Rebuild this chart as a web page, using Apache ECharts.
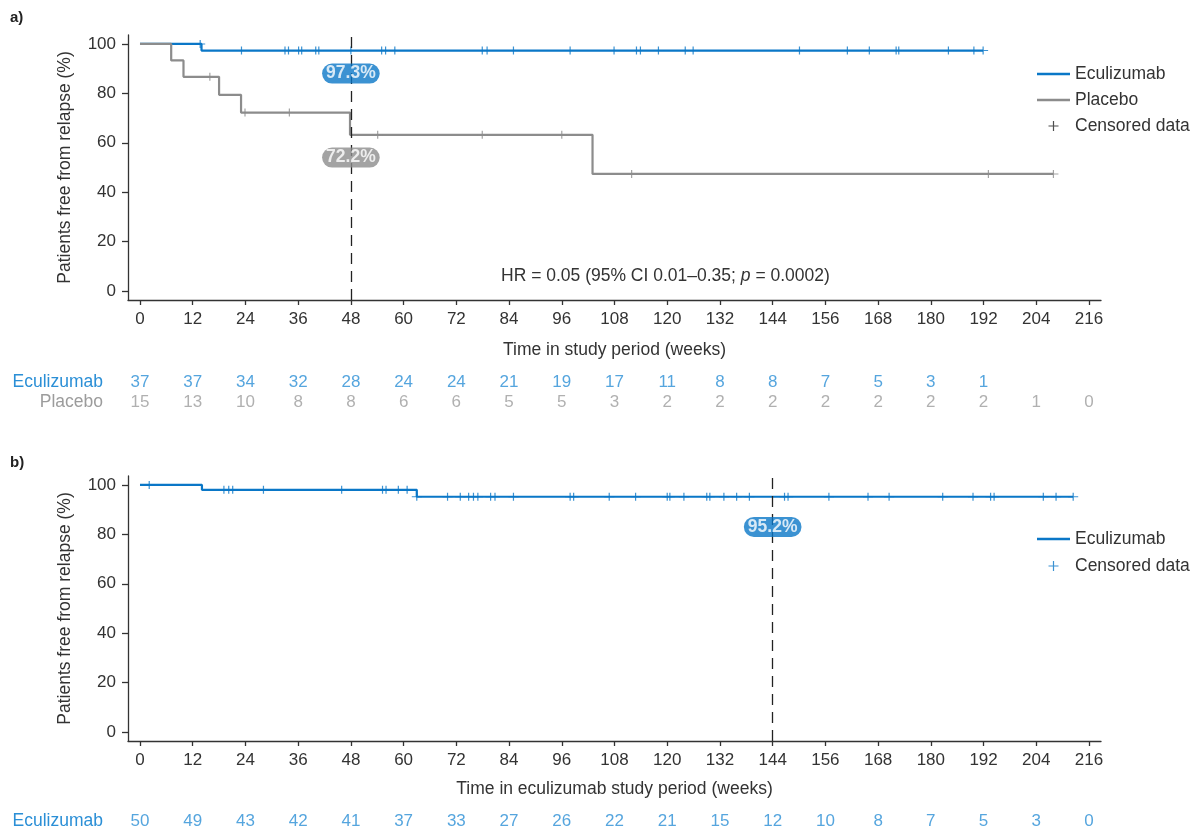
<!DOCTYPE html>
<html><head><meta charset="utf-8">
<script src="https://cdn.jsdelivr.net/npm/echarts@6/dist/echarts.min.js"></script>
<style>html,body{margin:0;padding:0;background:#fff}#c{width:1194px;height:830px}</style>
</head><body><div id="c"></div>
<script>
// ---------- DATA ----------
const xTicks = [0,12,24,36,48,60,72,84,96,108,120,132,144,156,168,180,192,204,216];
const yTicks = [0,20,40,60,80,100];

// Panel a) Kaplan-Meier steps (time in weeks, % free from relapse)
const ecuA_t = [0, 14, 191.9];
const ecuA_s = [100, 97.3, 97.3];
const plaA_t = [0, 7.1, 9.9, 18, 23, 47.8, 103, 207.9];
const plaA_s = [100, 93.3, 86.7, 79.4, 72.2, 63.2, 47.4, 47.4];
const ecuA_cens = [13.7, 23.1, 33, 33.8, 36.1, 36.8, 40, 40.7, 48, 55, 55.9, 58, 77.9, 79, 85, 97.9, 107.9, 113, 113.9, 118, 124.1, 125.9, 150.1, 161, 166, 172.1, 172.7, 184, 189.8, 191.9];
const plaA_cens = [15.9, 23.9, 34, 54.1, 77.9, 96, 111.9, 193.1, 207.9];
const riskA_ecu = [37,37,34,32,28,24,24,21,19,17,11,8,8,7,5,3,1];
const riskA_pla = [15,13,10,8,8,6,6,5,5,3,2,2,2,2,2,2,2,1,0];
const markA_week = 48;
const markA_labels = ['97.3%', '72.2%'];
const markA_labelY = [88.0, 54.0];
const hrParts = ['HR = 0.05 (95% CI 0.01\u20130.35; ', 'p', ' = 0.0002)'];

// Panel b)
const ecuB_t = [0, 14.1, 63, 212.4];
const ecuB_s = [100, 98.0, 95.2, 95.2];
const ecuB_cens = [2.1, 19.1, 20.2, 21.1, 28.1, 45.9, 55.2, 56.0, 58.8, 60.8, 63, 70.0, 72.9, 74.8, 75.9, 76.9, 79.8, 80.8, 85.0, 97.9, 98.7, 106.8, 112.8, 120.0, 120.6, 123.8, 129.0, 129.7, 132.9, 135.8, 138.7, 146.7, 147.5, 156.8, 165.7, 170.5, 182.7, 189.6, 193.6, 194.4, 205.6, 208.5, 212.4];
const riskB_ecu = [50,49,43,42,41,37,33,27,26,22,21,15,12,10,8,7,5,3,0];
const markB_week = 144;
const markB_labels = ['95.2%'];
const markB_labelY = [83.0];

// ---------- STYLE ----------
const BLUE = '#0a77c7', GREY = '#8c8c8c', BLUE_T = '#2b8fd6', GREY_T = '#9c9c9c';
const TXT = '#333', AX = '#333';
const FONT = 'Liberation Sans, Arial, Helvetica, sans-serif';
const FS = 17.5, FN = 17;
const X_MIN = -2.73, X_MAX = 218.73, Y_MIN = -3.6, Y_MAX = 103.6;
const PLUS = 'path://M4.4,0H5.6V4.4H10V5.6H5.6V10H4.4V5.6H0V4.4H4.4Z';
const LINE_ICON = 'path://M0,0H33V2.5H0Z';

function zip(t, s) { return t.map((v, i) => [v, s[i]]); }
function survAt(t, ts, ss) { let v = ss[0]; for (let i = 0; i < ts.length; i++) if (t >= ts[i]) v = ss[i]; return v; }
function censPts(c, ts, ss) { return c.map(t => [t, survAt(t, ts, ss)]); }

function mainX(gi, name, gap) {
  return { type: 'value', gridIndex: gi, min: X_MIN, max: X_MAX, name: name, nameLocation: 'middle', nameGap: gap,
    nameTextStyle: { fontSize: FS, color: TXT },
    axisLine: { show: true, onZero: false, lineStyle: { color: AX, width: 1.3 } },
    axisTick: { show: true, length: 5, customValues: xTicks, lineStyle: { color: AX, width: 1.3 } },
    axisLabel: { customValues: xTicks, fontSize: FN, color: TXT, margin: 11 },
    splitLine: { show: false } };
}
function mainY(gi) {
  return { type: 'value', gridIndex: gi, min: Y_MIN, max: Y_MAX, name: 'Patients free from relapse (%)', nameLocation: 'middle', nameGap: 54,
    nameTextStyle: { fontSize: FS, color: TXT },
    axisLine: { show: true, onZero: false, lineStyle: { color: AX, width: 1.3 } },
    axisTick: { show: true, length: 6, customValues: yTicks, lineStyle: { color: AX, width: 1.3 } },
    axisLabel: { customValues: yTicks, fontSize: FN, color: TXT, margin: 12 },
    splitLine: { show: false } };
}
function riskX(gi) { return { type: 'value', gridIndex: gi, min: X_MIN, max: X_MAX, show: false }; }
function riskY(gi, cats) {
  return { type: 'category', gridIndex: gi, data: cats, inverse: true,
    axisLine: { show: false }, axisTick: { show: false }, splitLine: { show: false },
    axisLabel: { interval: 0, fontSize: FS, margin: 25, color: v => (v === 'Placebo' ? GREY_T : BLUE_T) } };
}
function markLine(week) {
  return { silent: true, symbol: ['none', 'none'], label: { show: false },
    lineStyle: { color: '#222', type: [11, 7], width: 1.3 }, data: [{ xAxis: week }] };
}
function censSeries(ai, pts, color) {
  return { type: 'scatter', xAxisIndex: ai, yAxisIndex: ai, data: pts, symbol: PLUS, symbolSize: [10, 8],
    symbolKeepAspect: false, itemStyle: { color: color }, silent: true, z: 4 };
}
function pillSeries(ai, week, labels, ys, colors) {
  return { type: 'scatter', xAxisIndex: ai, yAxisIndex: ai, symbolSize: 0, z: 10, silent: true,
    data: labels.map((l, i) => ({ value: [week, ys[i]], label: { formatter: l, backgroundColor: colors[i] } })),
    label: { show: true, position: 'inside', color: '#fff', fontWeight: 'bold', fontSize: FS, padding: [2, 4, 1, 4], borderRadius: 10, lineHeight: 17 } };
}
function riskSeries(ai, cat, vals, color) {
  return { type: 'scatter', xAxisIndex: ai, yAxisIndex: ai, symbolSize: 0, silent: true,
    data: vals.map((n, i) => [xTicks[i], cat, n]),
    label: { show: true, position: 'inside', fontSize: FN, color: color, formatter: p => String(p.value[2]) } };
}

const chart = echarts.init(document.getElementById('c'));
chart.setOption({
  animation: false,
  backgroundColor: '#fff',
  textStyle: { fontFamily: FONT },
  title: [
    { text: 'a)', left: 10, top: 10, padding: 0, textStyle: { fontSize: 15, fontWeight: 'bold', color: '#222' } },
    { text: 'b)', left: 10, top: 455, padding: 0, textStyle: { fontSize: 15, fontWeight: 'bold', color: '#222' } },
    { text: '{n|' + hrParts[0] + '}{i|' + hrParts[1] + '}{n|' + hrParts[2] + '}', left: 501, top: 267, padding: 0,
      textStyle: { fontWeight: 'normal', rich: { n: { fontSize: FS, color: TXT, fontWeight: 'normal' }, i: { fontSize: FS, color: TXT, fontStyle: 'italic', fontWeight: 'normal' } } } }
  ],
  legend: [
    { orient: 'vertical', left: 1037, top: 65, padding: 0, itemWidth: 33, itemHeight: 10, itemGap: 8, selectedMode: false,
      itemStyle: { borderWidth: 0 }, textStyle: { fontSize: FS, color: TXT, lineHeight: 18 },
      data: [{ name: 'Eculizumab', icon: LINE_ICON }, { name: 'Placebo', icon: LINE_ICON }, { name: 'Censored data', icon: PLUS }] },
    { orient: 'vertical', left: 1037, top: 530, padding: 0, itemWidth: 33, itemHeight: 10, itemGap: 9, selectedMode: false,
      itemStyle: { borderWidth: 0 }, textStyle: { fontSize: FS, color: TXT, lineHeight: 18 },
      data: [{ name: 'Eculizumab', icon: LINE_ICON }, { name: 'Censored data', icon: PLUS, itemStyle: { color: BLUE } }] }
  ],
  grid: [
    { left: 128, right: 93, top: 35, height: 265 },
    { left: 128, right: 93, top: 372, height: 40 },
    { left: 128, right: 93, top: 476, height: 265 },
    { left: 128, right: 93, top: 812, height: 20 }
  ],
  xAxis: [mainX(0, 'Time in study period (weeks)', 41), riskX(1), mainX(2, 'Time in eculizumab study period (weeks)', 39), riskX(3)],
  yAxis: [mainY(0), riskY(1, ['Eculizumab', 'Placebo']), mainY(2), riskY(3, ['Eculizumab'])],
  series: [
    { name: 'Eculizumab', type: 'line', step: 'end', xAxisIndex: 0, yAxisIndex: 0, data: zip(ecuA_t, ecuA_s), symbol: 'none',
      color: BLUE, lineStyle: { color: BLUE, width: 2.2 }, markLine: markLine(markA_week), z: 2 },
    { name: 'Placebo', type: 'line', step: 'end', xAxisIndex: 0, yAxisIndex: 0, data: zip(plaA_t, plaA_s), symbol: 'none',
      color: GREY, lineStyle: { color: GREY, width: 2.2 }, z: 3 },
    censSeries(0, censPts(ecuA_cens, ecuA_t, ecuA_s), BLUE),
    censSeries(0, censPts(plaA_cens, plaA_t, plaA_s), GREY),
    { name: 'Censored data', type: 'scatter', xAxisIndex: 0, yAxisIndex: 0, data: [], symbol: PLUS, color: '#222', itemStyle: { color: '#222' } },
    pillSeries(0, markA_week, markA_labels, markA_labelY, [BLUE, GREY]),
    riskSeries(1, 'Eculizumab', riskA_ecu, BLUE_T),
    riskSeries(1, 'Placebo', riskA_pla, GREY_T),
    { name: 'Eculizumab', type: 'line', step: 'end', xAxisIndex: 2, yAxisIndex: 2, data: zip(ecuB_t, ecuB_s), symbol: 'none',
      color: BLUE, lineStyle: { color: BLUE, width: 2.2 }, markLine: markLine(markB_week), z: 2 },
    censSeries(2, censPts(ecuB_cens, ecuB_t, ecuB_s), BLUE),
    pillSeries(2, markB_week, markB_labels, markB_labelY, [BLUE]),
    riskSeries(3, 'Eculizumab', riskB_ecu, BLUE_T)
  ]
});
</script>
</body></html>
